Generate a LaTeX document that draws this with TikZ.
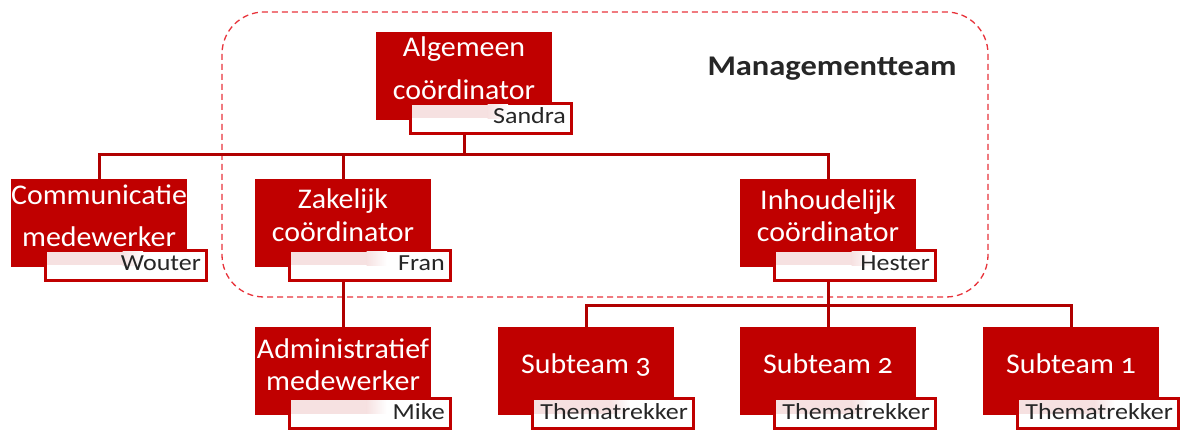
\documentclass[tikz,border=0pt]{standalone}
\usepackage{fontspec}
\setmainfont{Carlito}[Numbers=OldStyle]
\newfontfamily\mainf{Carlito}[Numbers=OldStyle,FakeStretch=1.05]
\newfontfamily\namef{Carlito}[Numbers=OldStyle,FakeStretch=1.13]
\newfontfamily\teamf{Carlito}[FakeStretch=1.14,BoldFont={Carlito Bold}]
\definecolor{boxred}{HTML}{C00000}
\definecolor{linered}{HTML}{B00000}
\definecolor{dashred}{HTML}{E8333B}
\definecolor{pinkc}{HTML}{F6E1E1}
\definecolor{nametext}{HTML}{262626}
\newcommand\namepart[3]{% name, left, top
  \node[nbox] (#1n) at ({#2+115},{#3+86.5}) {};
  \fill[pinkc] ({#2+35.5},{#3+73}) rectangle ({#2+112},{#3+86.5});
  \fill[left color=pinkc,right color=white] ({#2+111.5},{#3+73}) rectangle ({#2+132},{#3+86.5});
}
\newcommand\orgunit[8]{% name, left, top, line1, line2, person, base1, base2
  \node[rbox] (#1) at ({#2+88},{#3+44}) {};
  \node[rtext] (#1a) at ({#2+88},{#3+#7}) {#4};
  \node[rtext] (#1b) at ({#2+88},{#3+#8}) {#5};
  \namepart{#1}{#2}{#3}
  \node[ntext] (#1p) at ({#2+190},{#3+92}) {#6};
}
\newcommand\orgsingle[5]{% name, left, top, line, person
  \node[rbox] (#1) at ({#2+88},{#3+44}) {};
  \node[rtext] (#1a) at ({#2+88},{#3+46}) {#4};
  \namepart{#1}{#2}{#3}
  \node[ntext] (#1p) at ({#2+190},{#3+92}) {#5};
}
\begin{document}
\begin{tikzpicture}[x=1pt,y=-1pt,
  rbox/.style={fill=boxred,draw=none,minimum width=176pt,minimum height=88pt,inner sep=0pt},
  rtext/.style={text=white,anchor=base,inner sep=0pt,font=\mainf\fontsize{28.5}{34}\selectfont},
  nbox/.style={draw=boxred,line width=3pt,fill=white,minimum width=161pt,minimum height=30pt,inner sep=0pt},
  ntext/.style={text=nametext,anchor=base east,inner sep=0pt,font=\namef\fontsize{23}{28}\selectfont},
  conn/.style={draw=linered,line width=3pt},
  team/.style={draw=dashred,line width=1.3pt,dash pattern=on 6pt off 4pt,rounded corners=42pt}]
\useasboundingbox (0,0) rectangle (1186,430);
\fill[white] (0,0) rectangle (1186,430);
% management team frame
\draw[team] (222,12) rectangle (988,297);
\node[font=\teamf\bfseries\fontsize{28.5}{34}\selectfont,text=black!85,anchor=base,inner sep=0pt] (mt) at (832,76) {Managementteam};
% bus coordinates
\coordinate (busA) at (464,155);
\coordinate (busB) at (828,306);
% invisible anchors of the boxes, so connectors can be drawn behind them
\node[rbox,fill=none] (alg) at (464,76) {};
\node[rbox,fill=none] (comm) at (99,223) {};
\node[rbox,fill=none] (zak) at (343,223) {};
\node[rbox,fill=none] (inh) at (828,223) {};
\node[rbox,fill=none] (adm) at (343,371) {};
\node[rbox,fill=none] (st3) at (586,371) {};
\node[rbox,fill=none] (st2) at (828,371) {};
\node[rbox,fill=none] (st1) at (1071,371) {};
\draw[conn] (alg.south) -- (busA);
\draw[conn] (comm.north) |- (busA) -| (inh.north);
\draw[conn] (zak.north) -- (zak.north |- busA);
\draw[conn] (zak.south) -- (adm.north);
\draw[conn] (inh.south) -- (busB);
\draw[conn] (st3.north) |- (busB) -| (st1.north);
\draw[conn] (st2.north) -- (busB);
% units
\orgunit{alg}{376}{32}{Algemeen}{coördinator}{Sandra}{25}{68}
\orgunit{comm}{11}{179}{Communicatie}{medewerker}{Wouter}{26}{68}
\orgunit{zak}{255}{179}{Zakelijk}{coördinator}{Fran}{30}{63}
\orgunit{inh}{740}{179}{Inhoudelijk}{coördinator}{Hester}{31}{63}
\orgunit{adm}{255}{327}{Administratief}{medewerker}{Mike}{31}{63}
\orgsingle{st3}{498}{327}{Subteam 3}{Thematrekker}
\orgsingle{st2}{740}{327}{Subteam 2}{Thematrekker}
\orgsingle{st1}{983}{327}{Subteam 1}{Thematrekker}
\end{tikzpicture}
\end{document}
